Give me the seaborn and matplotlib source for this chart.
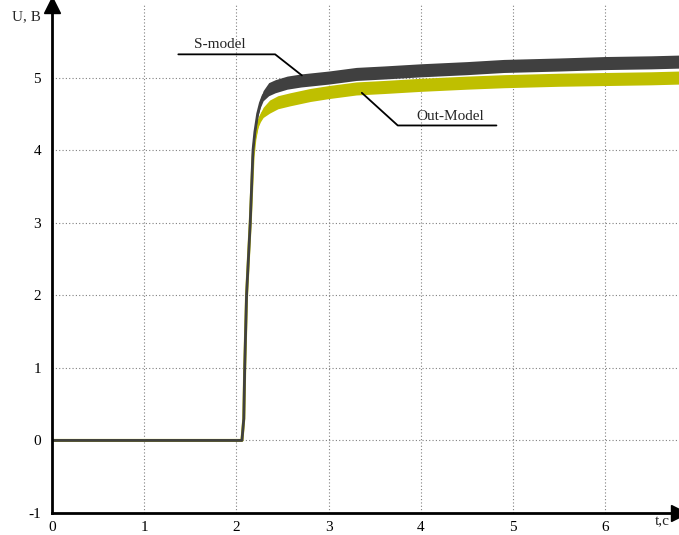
import numpy as np
import pandas as pd
import matplotlib
matplotlib.use("Agg")
import matplotlib.pyplot as plt
import seaborn as sns

# Data (centre of the noisy band)
t_s = [0.0, 2.06, 2.08, 2.09, 2.11, 2.15, 2.18, 2.20, 2.23, 2.26, 2.29, 2.35, 2.42, 2.55, 2.7, 3.0, 3.3, 3.6, 4.0, 4.5, 4.9, 5.5, 6.0, 6.5, 6.8]
u_s = [0.0, 0.0, 0.3, 1.0, 2.0, 3.0, 4.0, 4.25, 4.5, 4.65, 4.75, 4.84, 4.88, 4.93, 4.96, 5.0, 5.05, 5.07, 5.1, 5.13, 5.16, 5.18, 5.2, 5.21, 5.22]
spread_s = [0.0, 0.0, 0.0, 0.0, 0.0, 0.0, 0.02, 0.04, 0.05, 0.06, 0.07, 0.09, 0.09, 0.09, 0.09, 0.09, 0.09, 0.09, 0.09, 0.09, 0.09, 0.09, 0.09, 0.09, 0.09]

t_o = [0.0, 2.06, 2.08, 2.09, 2.11, 2.15, 2.18, 2.20, 2.23, 2.26, 2.29, 2.36, 2.45, 2.58, 2.8, 3.0, 3.3, 3.6, 4.0, 4.5, 4.9, 5.5, 6.0, 6.5, 6.8]
u_o = [0.0, 0.0, 0.3, 1.0, 2.0, 3.0, 3.9, 4.15, 4.35, 4.45, 4.52, 4.6, 4.66, 4.7, 4.76, 4.80, 4.85, 4.87, 4.9, 4.93, 4.95, 4.97, 4.98, 4.99, 5.0]
spread_o = [0.0, 0.0, 0.0, 0.0, 0.0, 0.0, 0.02, 0.04, 0.05, 0.06, 0.07, 0.09, 0.09, 0.09, 0.09, 0.09, 0.09, 0.09, 0.09, 0.09, 0.09, 0.09, 0.09, 0.09, 0.09]

x_ticks = [0, 1, 2, 3, 4, 5, 6]
y_ticks = [-1, 0, 1, 2, 3, 4, 5]

c_dark = "#404040"
c_yel = "#bfbf00"

sns.set_theme(style="white")
plt.rcParams['font.family'] = ['Liberation Serif', 'DejaVu Serif']

fig = plt.figure(figsize=(6.79, 5.35), dpi=100)
W, H = 679, 535
x0, x1 = 52, 679
y0, y1 = 513, 5
ax = fig.add_axes([x0 / W, (H - y0) / H, (x1 - x0) / W, (y0 - y1) / H])

df_o = pd.DataFrame({"t": t_o, "u": u_o})
df_s = pd.DataFrame({"t": t_s, "u": u_s})

# Out-Model (yellow) band + line
ax.fill_between(t_o, np.array(u_o) - np.array(spread_o), np.array(u_o) + np.array(spread_o),
                color=c_yel, lw=0, zorder=2)
sns.lineplot(data=df_o, x="t", y="u", ax=ax, color=c_yel, lw=2.2, zorder=3)
# S-model (dark) band + line
ax.fill_between(t_s, np.array(u_s) - np.array(spread_s), np.array(u_s) + np.array(spread_s),
                color=c_dark, lw=0, zorder=4)
sns.lineplot(data=df_s, x="t", y="u", ax=ax, color=c_dark, lw=2.0, zorder=5)

ax.set_xlim(0, 6.8)
ax.set_ylim(-1, 6.0)
ax.set_xticks(x_ticks)
ax.set_yticks(y_ticks)
ax.set_xticklabels([str(v) for v in x_ticks])
ax.set_yticklabels([str(v) for v in y_ticks])
ax.set_xlabel("")
ax.set_ylabel("")

for v in x_ticks[1:]:
    ax.axvline(v, color="#808080", ls=(0, (1, 2)), lw=0.8, zorder=1)
for v in y_ticks[1:]:
    ax.axhline(v, color="#808080", ls=(0, (1, 2)), lw=0.8, zorder=1)

for s in ["top", "right"]:
    ax.spines[s].set_visible(False)
for s in ["left", "bottom"]:
    ax.spines[s].set_color("black")
    ax.spines[s].set_linewidth(2.0)
    ax.spines[s].set_zorder(6)

ax.tick_params(axis="both", direction="in", length=4, width=1, color="black",
               labelsize=11, labelcolor="black")
ax.tick_params(axis="x", pad=6)
ax.tick_params(axis="y", pad=8)

# arrow heads
ax.plot([0], [1], marker="^", ms=11, color="black", transform=ax.transAxes, clip_on=False, zorder=7)
ax.plot([1], [0], marker=">", ms=11, color="black", transform=ax.transAxes, clip_on=False, zorder=7)

# axis labels
fig.text(12 / W, 1 - 17 / H, "U, B", fontsize=11, va="center", ha="left")
fig.text(655 / W, 1 - 522 / H, "t,c", fontsize=11, va="center", ha="left")

# callouts
ax.plot([1.37, 2.42, 2.71], [5.32, 5.32, 5.03], color="black", lw=1.3, zorder=8)
ax.text(1.82, 5.36, "S-model", fontsize=11, ha="center", va="bottom", zorder=8)
ax.plot([3.36, 3.75, 4.82], [4.79, 4.34, 4.34], color="black", lw=1.3, zorder=8)
ax.text(4.32, 4.38, "Out-Model", fontsize=11, ha="center", va="bottom", zorder=8)

fig.savefig("out.png", dpi=100)
